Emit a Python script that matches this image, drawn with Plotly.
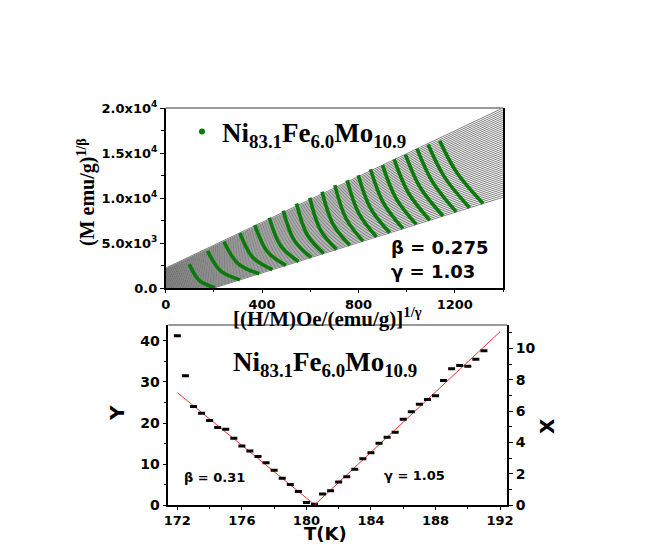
import plotly.graph_objects as go

# page body has an 8px margin, so the figure is drawn 8px in from the window corner
OFF = 8
W, H = 654 - OFF, 545 - OFF
def px(x): return (x - OFF) / W
def py(y): return 1 - (y - OFF) / H

# ---------------- Top panel data (modified Arrott plot) ----------------
# fan of linear fits: value at x=0 and at x=1400
fan_left = [-1650, -1560, -1475, -1385, -1300, -1210, -1120, -1035, -945, -860,
            -770, -680, -595, -505, -420, -330, -240, -155, -65, 20,
            110, 200, 285, 375, 460, 550, 640, 725, 815, 900,
            990, 1080, 1165, 1255, 1340, 1430, 1520, 1605, 1695, 1780,
            1870, 1960, 2045, 2135, 2250]
fan_right = [10100, 10325, 10550, 10775, 11000, 11225, 11450, 11675, 11900, 12125,
             12350, 12575, 12800, 13025, 13250, 13475, 13700, 13925, 14150, 14375,
             14600, 14825, 15050, 15275, 15500, 15725, 15950, 16175, 16400, 16625,
             16850, 17075, 17300, 17525, 17750, 17975, 18200, 18425, 18650, 18875,
             19100, 19325, 19550, 19775, 20000]
fan_x = [0, 1400]

# isotherms: top point, middle point, bottom point
iso_top_x = [98, 174, 242, 308, 370, 430, 488, 543, 598, 649,
             702, 753, 799, 850, 900, 948, 995, 1043, 1089, 1137]
iso_top_y = [2657, 4134, 5167, 6127, 7013, 7825, 8600, 9412, 10040, 10704,
             11442, 11996, 12549, 13214, 13657, 14321, 14838, 15502, 15945, 16351]
iso_mid_x = [140, 228, 300, 362, 422, 478, 534, 588, 642, 695,
             749, 802, 851, 904, 956, 1007, 1057, 1108, 1158, 1209]
iso_mid_y = [842, 1928, 2748, 3409, 4062, 4674, 5287, 5914, 6485, 7083,
             7715, 8281, 8845, 9458, 9977, 10600, 11155, 11780, 12303, 12813]
iso_bot_x = [204, 308, 388, 443, 499, 551, 604, 656, 709, 764,
             819, 875, 930, 985, 1040, 1096, 1151, 1206, 1261, 1317]
iso_bot_y = [64, 937, 1609, 2071, 2542, 2978, 3424, 3860, 4306, 4768,
             5230, 5700, 6162, 6624, 7086, 7556, 8018, 8480, 8942, 9413]

top_yticks = [0, 5000, 10000, 15000, 20000]
top_yticklabels = ["0.0", "5.0x10<sup>3</sup>", "1.0x10<sup>4</sup>",
                   "1.5x10<sup>4</sup>", "2.0x10<sup>4</sup>"]
top_xticks = [0, 400, 800, 1200]

# ---------------- Bottom panel data ----------------
T_left = [172.0, 172.5, 173.0, 173.5, 174.0, 174.5, 175.0, 175.5, 176.0, 176.5,
          177.0, 177.5, 178.0, 178.5, 179.0, 179.5, 180.0, 180.5]
Y_left = [41.3, 31.5, 24.0, 22.4, 20.6, 18.9, 18.5, 16.3, 14.4, 13.2,
          11.8, 10.3, 8.5, 6.5, 5.0, 3.3, 0.6, 0.2]
T_right = [181.0, 181.5, 182.0, 182.5, 183.0, 183.5, 184.0, 184.5, 185.0, 185.5,
           186.0, 186.5, 187.0, 187.5, 188.0, 188.5, 189.0, 189.5, 190.0, 190.5, 191.0]
X_right = [0.70, 0.91, 1.47, 1.81, 2.28, 2.96, 3.34, 3.94, 4.32, 4.64,
           5.47, 5.96, 6.43, 6.74, 6.98, 7.94, 8.70, 8.91, 8.85, 9.30, 9.85]
fitL_T = [172.0, 180.53]
fitL_Y = [27.4, 0.0]
fitR_T = [180.5, 192.0]
fitR_X = [0.0, 11.06]

SERIF = "Liberation Serif"
SANS = "DejaVu Sans"
GREEN = "#0a7a0a"

fig = go.Figure()

# fan lines
fx, fy = [], []
for a, b in zip(fan_left, fan_right):
    fx += [fan_x[0], fan_x[1], None]
    fy += [a, b, None]
fig.add_trace(go.Scatter(x=fx, y=fy, mode="lines", xaxis="x", yaxis="y",
                         line=dict(color="#2a2a2a", width=0.6), showlegend=False,
                         hoverinfo="skip"))
# isotherms
for i in range(len(iso_top_x)):
    fig.add_trace(go.Scatter(x=[iso_top_x[i], iso_mid_x[i], iso_bot_x[i]],
                             y=[iso_top_y[i], iso_mid_y[i], iso_bot_y[i]],
                             mode="lines", line=dict(color=GREEN, width=3.6, shape="spline"),
                             xaxis="x", yaxis="y", showlegend=False))
# legend entry
fig.add_trace(go.Scatter(x=[None], y=[None], mode="markers", xaxis="x", yaxis="y",
                         marker=dict(color=GREEN, size=6),
                         name="<b>Ni<sub>83.1</sub>Fe<sub>6.0</sub>Mo<sub>10.9</sub></b>"))

# bottom panel
fig.add_trace(go.Scatter(x=fitL_T, y=fitL_Y, mode="lines", xaxis="x2", yaxis="y3",
                         line=dict(color="#ff3030", width=1), showlegend=False))
fig.add_trace(go.Scatter(x=fitR_T, y=fitR_X, mode="lines", xaxis="x2", yaxis="y4",
                         line=dict(color="#ff3030", width=1), showlegend=False))
fig.add_trace(go.Scatter(x=T_left, y=Y_left, mode="markers", xaxis="x2", yaxis="y3",
                         marker=dict(symbol="line-ew", size=5, line=dict(width=3, color="black")),
                         showlegend=False))
fig.add_trace(go.Scatter(x=T_right, y=X_right, mode="markers", xaxis="x2", yaxis="y4",
                         marker=dict(symbol="line-ew", size=5, line=dict(width=3, color="black")),
                         showlegend=False))

axcommon = dict(showgrid=False, zeroline=False, showline=True, linecolor="black",
                linewidth=1.5, ticks="outside", tickwidth=1.2, tickcolor="black",
                automargin=False)

fig.update_layout(
    width=W, height=H, margin=dict(l=0, r=0, t=0, b=0, autoexpand=False),
    paper_bgcolor="white", plot_bgcolor="white",
    showlegend=True,
    legend=dict(x=px(182), y=py(132), xanchor="left", yanchor="middle",
                bgcolor="rgba(0,0,0,0)", font=dict(family=SERIF, size=27, color="black"),
                itemwidth=30),
    xaxis=dict(domain=[px(165.7), px(503)], range=[0, 1400], anchor="y", ticklen=3,
               tickvals=top_xticks, ticktext=[f"<b>{v}</b>" for v in top_xticks],
               tickfont=dict(family=SANS, size=13, color="black"),
               minor=dict(dtick=200, tick0=200, ticks="outside", ticklen=2, tickcolor="black"),
               **axcommon),
    yaxis=dict(domain=[py(288.3), py(108)], range=[0, 20000], anchor="x", ticklen=4,
               tickvals=top_yticks, ticktext=[f"<b>{t}</b>" for t in top_yticklabels],
               tickfont=dict(family=SANS, size=13, color="black"),
               minor=dict(dtick=2500, tick0=0, ticks="outside", ticklen=3, tickcolor="black"),
               mirror=True, **axcommon),
    xaxis2=dict(domain=[px(168.3), px(507.3)], range=[171.44, 192.45], anchor="y3", ticklen=3,
                tickvals=[172, 176, 180, 184, 188, 192],
                ticktext=[f"<b>{v}</b>" for v in [172, 176, 180, 184, 188, 192]],
                tickfont=dict(family=SANS, size=13, color="black"),
                minor=dict(dtick=2, tick0=174, ticks="outside", ticklen=2, tickcolor="black"),
                **axcommon),
    yaxis3=dict(domain=[py(505), py(325)], range=[0, 43.9], anchor="x2", ticklen=4,
                tickvals=[0, 10, 20, 30, 40],
                ticktext=[f"<b>{v}</b>" for v in [0, 10, 20, 30, 40]],
                tickfont=dict(family=SANS, size=14, color="black"),
                minor=dict(dtick=5, tick0=0, ticks="outside", ticklen=3, tickcolor="black"),
                **axcommon),
    yaxis4=dict(domain=[py(505), py(325)], range=[0, 11.49], anchor="x2", overlaying="y3",
                side="right", ticklen=4,
                tickvals=[0, 2, 4, 6, 8, 10],
                ticktext=[f"<b>{v}</b>" for v in [0, 2, 4, 6, 8, 10]],
                tickfont=dict(family=SANS, size=14, color="black"),
                minor=dict(dtick=1, tick0=0, ticks="outside", ticklen=3, tickcolor="black"),
                **axcommon),
)

# gray top borders
fig.add_shape(type="line", xref="paper", yref="paper", x0=px(165.7), x1=px(503),
              y0=py(108), y1=py(108), line=dict(color="#9a9a9a", width=2))
fig.add_shape(type="line", xref="paper", yref="paper", x0=px(168.3), x1=px(507.3),
              y0=py(325), y1=py(325), line=dict(color="#9a9a9a", width=2))

ann = []
def A(text, x, y, size, family, xanchor="center", yanchor="middle", angle=0):
    ann.append(dict(text=text, x=px(x), y=py(y), xref="paper", yref="paper",
                    xanchor=xanchor, yanchor=yanchor, showarrow=False, textangle=angle,
                    font=dict(family=family, size=size, color="black")))

A("<b>β = 0.275</b>", 389, 248, 18, SANS, xanchor="left")
A("<b>γ = 1.03</b>", 389, 272, 18, SANS, xanchor="left")
A("<b>[(H/M)Oe/(emu/g)]<sup>1/γ</sup></b>", 327, 318, 21, SERIF)
A("<b>(M emu/g)<sup>1/β</sup></b>", 86, 192, 20, SERIF, angle=-90)

A("<b>Ni<sub>83.1</sub>Fe<sub>6.0</sub>Mo<sub>10.9</sub></b>", 325, 364, 27, SERIF)
A("<b>β = 0.31</b>", 182, 477, 13, SANS, xanchor="left")
A("<b>γ = 1.05</b>", 382, 475, 13, SANS, xanchor="left")
A("<b>Y</b>", 117, 413, 20, SANS, angle=-90)
A("<b>X</b>", 547, 426, 20, SANS, angle=-90)
A("<b>T(K)</b>", 325, 533, 18, SANS)

fig.update_layout(annotations=ann)
fig.write_html("out.html")
